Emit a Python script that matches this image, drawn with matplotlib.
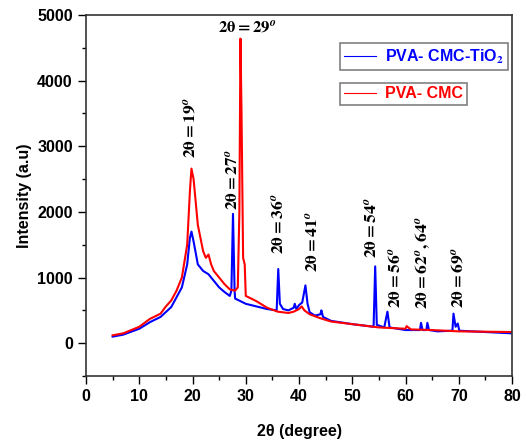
import matplotlib
matplotlib.use('Agg')
import matplotlib.pyplot as plt
from matplotlib.lines import Line2D
from matplotlib.ticker import MultipleLocator

# PVA-CMC-TiO2 (blue)
x_tio2 = [5, 7, 10, 12, 14, 16, 17, 18, 19, 19.5, 19.8, 20.2, 21, 22, 23, 24, 25, 26,
          27, 27.3, 27.6, 27.9, 28, 29, 30, 32, 34, 35.8, 36.1, 36.4, 37, 38, 39, 39.2,
          39.5, 40, 40.6, 41.2, 41.6, 42, 43, 44, 44.2, 44.5, 46, 50, 54, 54.3, 54.6,
          56, 56.6, 57, 60, 62.7, 62.9, 63.2, 63.9, 64.1, 64.4, 66, 68.8, 69.0, 69.4,
          69.8, 70.1, 75, 80]
y_tio2 = [100, 130, 220, 320, 400, 550, 700, 850, 1200, 1600, 1700, 1550, 1200, 1100,
          1050, 950, 850, 780, 720, 800, 1970, 800, 680, 640, 600, 560, 520, 500, 1130,
          600, 520, 500, 540, 600, 520, 580, 620, 880, 600, 470, 420, 440, 500, 400, 340,
          290, 250, 1170, 280, 240, 480, 240, 200, 200, 310, 200, 200, 310, 200, 180,
          190, 450, 250, 300, 190, 170, 150]

# PVA-CMC (red)
x_cmc = [5, 7, 10, 12, 14, 15, 16, 17, 18, 19, 19.5, 19.8, 20.2, 21, 22, 22.5, 23,
         23.5, 24, 25, 26, 27, 28, 28.5, 28.8, 29.0, 29.2, 29.5, 29.8, 30, 31, 32, 34,
         36, 38, 39, 40, 40.5, 41, 42, 44, 46, 50, 55, 60, 60.2, 61, 65, 70, 75, 80]
y_cmc = [120, 150, 250, 370, 450, 560, 650, 800, 1000, 1500, 2300, 2660, 2500, 1800,
         1400, 1300, 1350, 1200, 1100, 1000, 900, 820, 800, 850, 2000, 4640, 3520, 1300,
         1200, 720, 680, 640, 540, 480, 460, 480, 520, 560, 500, 440, 380, 330, 290,
         240, 220, 260, 210, 200, 180, 175, 170]

# peak annotations: (x, y, text)
peak_x = [19.6, 27.4, 36.0, 42.5, 53.6, 58.0, 63.3, 69.9]
peak_y = [2820, 2030, 1360, 1090, 1300, 530, 515, 530]
peak_txt = [r'$\mathbf{2\theta} = 19^{o}$', r'$\mathbf{2\theta} = 27^{o}$',
            r'$\mathbf{2\theta} = 36^{o}$', r'$\mathbf{2\theta} = 41^{o}$',
            r'$\mathbf{2\theta} = 54^{o}$', r'$\mathbf{2\theta} =56^{o}$',
            r'$\mathbf{2\theta} = 62^{o}, 64^{o}$', r'$\mathbf{2\theta} = 69^{o}$']

plt.rcParams['mathtext.fontset'] = 'stix'
plt.rcParams['font.family'] = 'Liberation Sans'
plt.rcParams['font.weight'] = 'bold'

fig = plt.figure(figsize=(5.26, 4.41), dpi=100)
ax = fig.add_axes([0.1635, 0.1474, 0.81, 0.8186])

ax.plot(x_tio2, y_tio2, color='#0000ff', lw=1.5)
ax.plot(x_cmc, y_cmc, color='#ff0000', lw=1.5)

ax.set_xlim(0, 80)
ax.set_ylim(-500, 5000)
ax.xaxis.set_major_locator(MultipleLocator(10))
ax.xaxis.set_minor_locator(MultipleLocator(5))
ax.yaxis.set_major_locator(MultipleLocator(1000))
ax.yaxis.set_minor_locator(MultipleLocator(500))
ax.tick_params(which='both', direction='out', top=False, right=False, labelsize=11.5)
ax.tick_params(which='major', length=6, width=1)
ax.tick_params(which='minor', length=3, width=1)
for s in ax.spines.values():
    s.set_color('#333333')
    s.set_linewidth(1.2)

ax.set_xlabel('2θ (degree)', fontsize=11.5, fontweight='bold', labelpad=14)
ax.set_ylabel('Intensity (a.u)', fontsize=11.5, fontweight='bold', labelpad=4)

ax.text(30.2, 4820, r'$\mathbf{2\theta} = 29^{o}$', fontsize=12, ha='center', va='center')
for px, py, t in zip(peak_x, peak_y, peak_txt):
    ax.text(px, py, t, fontsize=12.5, rotation=90, ha='center', va='bottom')

leg_kw = dict(loc='upper left', fancybox=False, edgecolor='#808080', framealpha=1,
              prop={'size': 11.5, 'weight': 'bold'}, handlelength=2.0,
              borderpad=0.25, handletextpad=0.6, borderaxespad=0)
leg1 = ax.legend([Line2D([], [], color='#0000ff', lw=0.8)], ['PVA- CMC-TiO$_2$'],
                 bbox_to_anchor=(0.596, 0.922), labelcolor='#0000ff', **leg_kw)
leg1.get_frame().set_linewidth(1.2)
ax.add_artist(leg1)
leg2 = ax.legend([Line2D([], [], color='#ff0000', lw=0.8)], ['PVA- CMC'],
                 bbox_to_anchor=(0.596, 0.813), labelcolor='#ff0000', **leg_kw)
leg2.get_frame().set_linewidth(1.2)

fig.savefig('out.png', dpi=100)
